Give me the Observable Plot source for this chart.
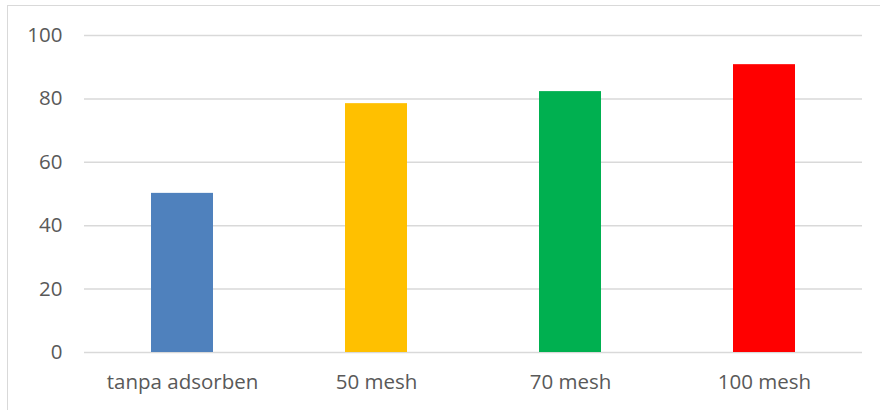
<!DOCTYPE html>
<html>
<head>
<meta charset="utf-8">
<script src="https://cdn.jsdelivr.net/npm/d3@7"></script>
<script src="https://cdn.jsdelivr.net/npm/@observablehq/plot@0.6"></script>
<style>
  html, body { margin: 0; padding: 0; background: #fff; }
  #wrap { position: relative; width: 880px; height: 410px; overflow: hidden; }
  #frame { position: absolute; left: 7px; top: 5px; width: 900px; height: 450px; border: 1px solid #d9d9d9; box-sizing: border-box; }
  #chart { position: absolute; left: 0; top: 0; }
</style>
</head>
<body>
<div id="wrap"><div id="frame"></div><div id="chart"></div></div>
<script>
const categories = ["tanpa adsorben", "50 mesh", "70 mesh", "100 mesh"];
const values = [50.2, 78.5, 82.3, 90.8];
const colors = ["#4f81bd", "#ffc000", "#00b050", "#ff0000"];
const yTicks = [0, 20, 40, 60, 80, 100];

const data = categories.map((c, i) => ({category: c, value: values[i], color: colors[i]}));

const chart = Plot.plot({
  width: 880,
  height: 410,
  marginLeft: 84,
  marginRight: 18,
  marginTop: 35,
  marginBottom: 58,
  style: {fontFamily: "'Open Sans', sans-serif", fontSize: "20.5px", color: "#595959", background: "transparent"},
  x: {domain: categories, paddingInner: 0.68, paddingOuter: 0.34, label: null},
  y: {domain: [0, 100], label: null},
  marks: [
    Plot.gridY(yTicks, {stroke: "#d9d9d9", strokeOpacity: 1, strokeWidth: 1.5}),
    Plot.barY(data, {x: "category", y: "value", fill: "color"}),
    Plot.axisY(yTicks, {tickSize: 0, tickPadding: 22, fill: "#595959", fontSize: 20.5, label: null}),
    Plot.axisX({tickSize: 0, tickPadding: 22, fill: "#595959", fontSize: 20.5, label: null})
  ]
});
document.getElementById("chart").appendChild(chart);
</script>
</body>
</html>
